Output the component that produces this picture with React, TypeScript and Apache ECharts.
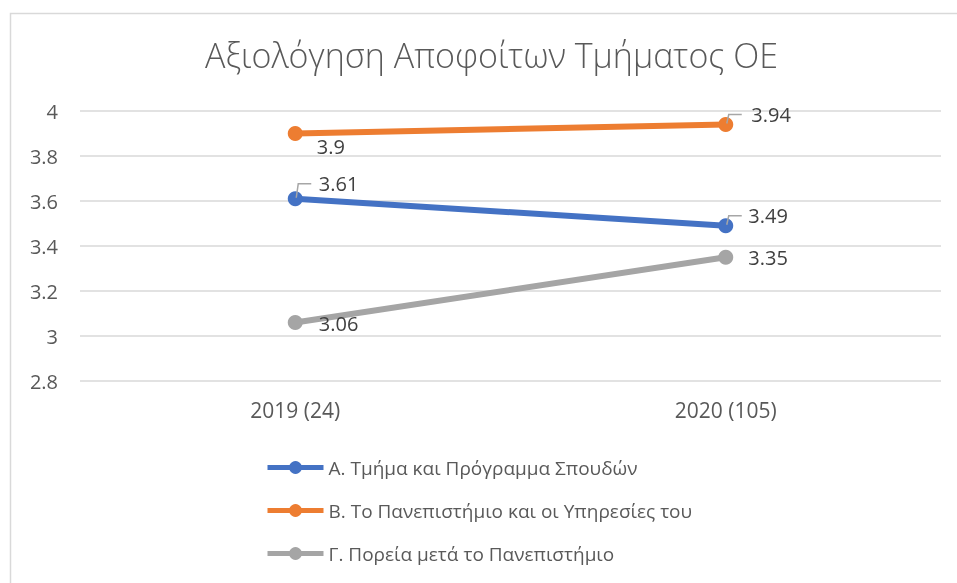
import React, { useEffect, useRef } from "react";
import * as echarts from "echarts";

const categories = ["2019 (24)", "2020 (105)"];
const seriesNames = [
  "Α. Τμήμα και Πρόγραμμα Σπουδών",
  "Β. Το Πανεπιστήμιο και οι Υπηρεσίες του",
  "Γ. Πορεία μετά το Πανεπιστήμιο",
];
const seriesA = [3.61, 3.49];
const seriesB = [3.9, 3.94];
const seriesC = [3.06, 3.35];
const colors = ["#4472C4", "#ED7D31", "#A5A5A5"];
const titleText = "Αξιολόγηση Αποφοίτων Τμήματος ΟΕ";

// label shifts [seriesIndex][dataIndex] -> [dx, dy]
const labelShift = [
  [[11, -15], [10, -10]],
  [[9, 13], [13, -10]],
  [[11, 1], [10, 0]],
];
// which labels have an elbow leader line
const leader = [
  [true, true],
  [false, true],
  [false, false],
];

export default function App() {
  const ref = useRef<HTMLDivElement>(null);
  useEffect(() => {
    const chart = echarts.init(ref.current!, undefined, { renderer: "svg" });
    const font = "'Open Sans', 'Noto Sans', sans-serif";
    const all = [seriesA, seriesB, seriesC];
    const mk = (i: number, data: number[]) => ({
      name: seriesNames[i],
      type: "line",
      data,
      symbol: "circle",
      symbolSize: 15,
      lineStyle: { width: 6, color: colors[i] },
      itemStyle: { color: colors[i] },
      z: 3 - i,
      label: {
        show: true,
        position: "right",
        distance: 5,
        fontSize: 20,
        color: "#404040",
        fontFamily: font,
      },
      labelLayout: (p: any) => {
        const s = labelShift[i][p.dataIndex];
        return { dx: s[0], dy: s[1] };
      },
    });
    chart.setOption({
      animation: false,
      textStyle: { fontFamily: font },
      title: {
        text: titleText,
        left: 200,
        top: 33,
        textStyle: {
          fontSize: 34,
          fontWeight: 300,
          color: "#595959",
          fontFamily: font,
        },
      },
      grid: { left: 80, right: 16, top: 111, height: 270, containLabel: false },
      xAxis: {
        type: "category",
        data: categories,
        boundaryGap: true,
        axisLine: { show: false },
        axisTick: { show: false },
        axisLabel: { fontSize: 21, color: "#595959", margin: 18 },
      },
      yAxis: {
        type: "value",
        min: 2.8,
        max: 4,
        interval: 0.2,
        axisLine: { show: false },
        axisTick: { show: false },
        splitLine: { lineStyle: { color: "#D9D9D9", width: 1.5 } },
        axisLabel: {
          fontSize: 20,
          color: "#595959",
          margin: 22,
          formatter: (v: number) => String(Math.round(v * 10) / 10),
        },
      },
      legend: {
        orient: "vertical",
        left: 260,
        top: 453,
        itemWidth: 56,
        itemHeight: 16,
        itemGap: 24,
        lineStyle: { width: 5 },
        textStyle: { fontSize: 19, color: "#595959" },
        data: seriesNames,
      },
      series: [mk(0, seriesA), mk(1, seriesB), mk(2, seriesC)],
    });

    const elems: any[] = [
      {
        type: "rect",
        shape: { x: 10.5, y: 13.5, width: 960, height: 600 },
        style: { fill: "none", stroke: "#D9D9D9", lineWidth: 1.5 },
        silent: true,
      },
    ];
    for (let i = 0; i < 3; i++) {
      for (let j = 0; j < 2; j++) {
        if (!leader[i][j]) continue;
        const p = chart.convertToPixel({ seriesIndex: i }, [j, all[i][j]]) as number[];
        const dy = labelShift[i][j][1];
        const topY = p[1] + dy;
        elems.push({
          type: "polyline",
          silent: true,
          z: 10,
          shape: {
            points: [
              [p[0] + 1, p[1] - 1],
              [p[0] + 3, topY],
              [p[0] + 16, topY],
            ],
          },
          style: { fill: "none", stroke: "#A6A6A6", lineWidth: 1.5 },
        });
      }
    }
    chart.setOption({ graphic: elems });
    return () => chart.dispose();
  }, []);
  return (
    <div
      ref={ref}
      style={{ position: "fixed", left: 0, top: 0, width: 957, height: 583 }}
    />
  );
}
